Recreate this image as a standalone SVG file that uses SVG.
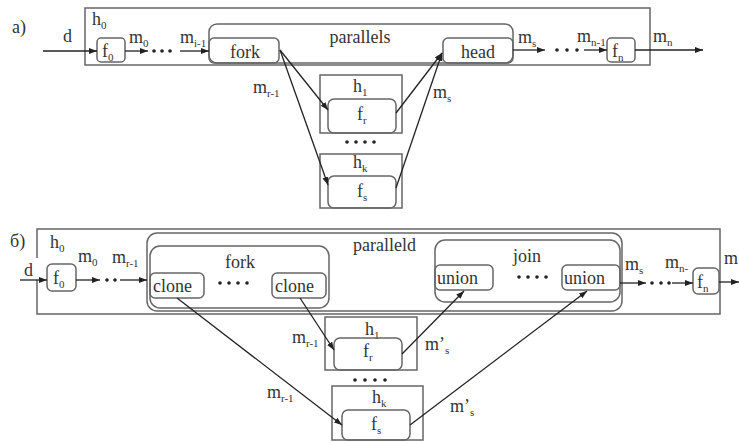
<svg xmlns="http://www.w3.org/2000/svg" width="739" height="443" viewBox="0 0 739 443">
<defs>
<marker id="ah" markerWidth="9" markerHeight="7" refX="8" refY="3" orient="auto" markerUnits="userSpaceOnUse">
<path d="M0,0 L8,3 L0,6 z" fill="#222"/>
</marker>
<style>
.b{fill:none;stroke:#666;stroke-width:1.5}
.t{font-family:"Liberation Serif","Times New Roman",serif;font-size:18px;fill:#333}
.m{text-anchor:middle}
.s{font-size:11px}
.c{stroke:#222;stroke-width:1.3;fill:none;marker-end:url(#ah)}
.d{fill:#222}
</style>
</defs>
<rect width="739" height="443" fill="#fff"/>

<!-- Part a -->
<text class="t" x="12" y="33">a)</text>
<g id="a_h0"><rect class="b" x="85" y="8" width="565" height="57"/><text class="t" x="92" y="25">h<tspan class="s" dy="4">0</tspan></text></g>
<g id="a_f0"><rect class="b" x="97" y="38" width="28" height="24" rx="4"/><text class="t" x="102" y="57">f<tspan class="s" dy="4">0</tspan></text></g>
<g id="a_parallels"><rect class="b" x="209" y="24" width="304" height="39" rx="8"/><text class="t m" x="360" y="43">parallels</text></g>
<g id="a_fork"><rect class="b" x="209" y="38" width="70" height="25" rx="5"/><text class="t m" x="245" y="58">fork</text></g>
<g id="a_head"><rect class="b" x="443" y="38" width="70" height="25" rx="5"/><text class="t m" x="478" y="58">head</text></g>
<g id="a_fn"><rect class="b" x="607" y="38" width="28" height="24" rx="4"/><text class="t" x="612" y="57">f<tspan class="s" dy="4">n</tspan></text></g>
<g id="a_h1"><rect class="b" x="320" y="75" width="82" height="58"/><text class="t" x="353" y="92">h<tspan class="s" dy="4">1</tspan></text></g>
<g id="a_fr"><rect class="b" x="328" y="99" width="68" height="34" rx="6"/><text class="t" x="357" y="120">f<tspan class="s" dy="4">r</tspan></text></g>
<g id="a_dots"><circle class="d" cx="347" cy="142" r="1.8"/><circle class="d" cx="356" cy="142" r="1.8"/><circle class="d" cx="365" cy="142" r="1.8"/><circle class="d" cx="374" cy="142" r="1.8"/></g>
<g id="a_hk"><rect class="b" x="320" y="154" width="82" height="54"/><text class="t" x="353" y="168">h<tspan class="s" dy="4">k</tspan></text></g>
<g id="a_fs"><rect class="b" x="328" y="176" width="68" height="32" rx="6"/><text class="t" x="357" y="197">f<tspan class="s" dy="4">s</tspan></text></g>

<g id="a_connectors">
<line class="c" x1="43" y1="51" x2="97" y2="51"/>
<line class="c" x1="125" y1="51" x2="148" y2="51"/>
<circle class="d" cx="154" cy="51" r="1.8"/><circle class="d" cx="162" cy="51" r="1.8"/><circle class="d" cx="170" cy="51" r="1.8"/>
<line class="c" x1="180" y1="51" x2="209" y2="51"/>
<line class="c" x1="280" y1="50" x2="328" y2="110"/>
<line class="c" x1="280" y1="50" x2="328" y2="185"/>
<line class="c" x1="396" y1="113" x2="442" y2="53"/>
<line class="c" x1="396" y1="188" x2="442" y2="53"/>
<line class="c" x1="513" y1="50" x2="545" y2="50"/>
<circle class="d" cx="557" cy="50" r="1.8"/><circle class="d" cx="567" cy="50" r="1.8"/><circle class="d" cx="577" cy="50" r="1.8"/>
<line class="c" x1="584" y1="50" x2="607" y2="50"/>
<line class="c" x1="635" y1="50" x2="703" y2="50"/>
<text class="t" x="63" y="42">d</text>
<text class="t" x="129" y="43">m<tspan class="s" dy="4">0</tspan></text>
<text class="t" x="180" y="43">m<tspan class="s" dy="4">i-1</tspan></text>
<text class="t" x="518" y="43">m<tspan class="s" dy="4">s</tspan></text>
<text class="t" x="577" y="42">m<tspan class="s" dy="4">n-1</tspan></text>
<text class="t" x="653" y="42">m<tspan class="s" dy="4">n</tspan></text>
<text class="t" x="253" y="93">m<tspan class="s" dy="4">r-1</tspan></text>
<text class="t" x="433" y="98">m<tspan class="s" dy="4">s</tspan></text>
</g>

<!-- Part b -->
<text class="t" x="10" y="247">б)</text>
<g id="b_h0"><path class="b" d="M37,258 V229 H720 V314 H37 V280"/><text class="t" x="50" y="248">h<tspan class="s" dy="4">0</tspan></text></g>
<g id="b_f0"><rect class="b" x="47" y="264" width="29" height="27" rx="5"/><text class="t" x="53" y="284">f<tspan class="s" dy="4">0</tspan></text></g>
<g id="b_paralleld"><rect class="b" x="147" y="233" width="475" height="78" rx="10"/><text class="t" x="353" y="251">paralleld</text></g>
<g id="b_fork"><rect class="b" x="150" y="246" width="179" height="62" rx="10"/><text class="t m" x="240" y="268">fork</text></g>
<g id="b_clone1"><rect class="b" x="150" y="273" width="54" height="25" rx="5"/><text class="t" x="153" y="292">clone</text></g>
<g id="b_forkdots"><circle class="d" cx="220" cy="283" r="1.8"/><circle class="d" cx="229" cy="283" r="1.8"/><circle class="d" cx="238" cy="283" r="1.8"/><circle class="d" cx="247" cy="283" r="1.8"/></g>
<g id="b_clone2"><rect class="b" x="272" y="273" width="54" height="25" rx="5"/><text class="t" x="275" y="292">clone</text></g>
<g id="b_join"><rect class="b" x="435" y="240" width="185" height="62" rx="10"/><text class="t m" x="527" y="262">join</text></g>
<g id="b_union1"><rect class="b" x="435" y="265" width="58" height="25" rx="5"/><text class="t" x="437" y="284">union</text></g>
<g id="b_joindots"><circle class="d" cx="519" cy="277" r="1.8"/><circle class="d" cx="528" cy="277" r="1.8"/><circle class="d" cx="537" cy="277" r="1.8"/><circle class="d" cx="546" cy="277" r="1.8"/></g>
<g id="b_union2"><rect class="b" x="562" y="265" width="58" height="25" rx="5"/><text class="t" x="564" y="284">union</text></g>
<g id="b_fn"><rect class="b" x="693" y="268" width="26" height="26" rx="5"/><text class="t" x="697" y="288">f<tspan class="s" dy="4">n</tspan></text></g>
<g id="b_h1"><rect class="b" x="325" y="317" width="92" height="53"/><text class="t" x="365" y="335">h<tspan class="s" dy="4">1</tspan></text></g>
<g id="b_fr"><rect class="b" x="334" y="338" width="68" height="32" rx="6"/><text class="t" x="363" y="357">f<tspan class="s" dy="4">r</tspan></text></g>
<g id="b_dots"><circle class="d" cx="355" cy="380" r="1.8"/><circle class="d" cx="365" cy="380" r="1.8"/><circle class="d" cx="375" cy="380" r="1.8"/><circle class="d" cx="385" cy="380" r="1.8"/></g>
<g id="b_hk"><rect class="b" x="332" y="386" width="91" height="54"/><text class="t" x="372" y="403">h<tspan class="s" dy="4">k</tspan></text></g>
<g id="b_fs"><rect class="b" x="342" y="410" width="68" height="30" rx="6"/><text class="t" x="371" y="430">f<tspan class="s" dy="4">s</tspan></text></g>

<g id="b_connectors">
<line class="c" x1="20" y1="280" x2="47" y2="280"/>
<line class="c" x1="76" y1="280" x2="100" y2="280"/>
<circle class="d" cx="107" cy="280" r="1.8"/><circle class="d" cx="115" cy="280" r="1.8"/>
<line class="c" x1="120" y1="280" x2="147" y2="280"/>
<line class="c" x1="177" y1="298" x2="342" y2="425"/>
<line class="c" x1="300" y1="298" x2="334" y2="350"/>
<line class="c" x1="402" y1="354" x2="464" y2="291"/>
<line class="c" x1="410" y1="425" x2="587" y2="291"/>
<line class="c" x1="620" y1="283" x2="646" y2="283"/>
<circle class="d" cx="652" cy="283" r="1.8"/><circle class="d" cx="661" cy="283" r="1.8"/><circle class="d" cx="669" cy="283" r="1.8"/>
<line class="c" x1="672" y1="283" x2="693" y2="283"/>
<line class="c" x1="719" y1="282" x2="739" y2="282"/>
<text class="t" x="24" y="276">d</text>
<text class="t" x="78" y="262">m<tspan class="s" dy="4">0</tspan></text>
<text class="t" x="112" y="263">m<tspan class="s" dy="4">r-1</tspan></text>
<text class="t" x="625" y="270">m<tspan class="s" dy="4">s</tspan></text>
<text class="t" x="665" y="268">m<tspan class="s" dy="4">n-</tspan></text>
<text class="t" x="724" y="264">m</text>
<text class="t" x="292" y="343">m<tspan class="s" dy="4">r-1</tspan></text>
<text class="t" x="267" y="398">m<tspan class="s" dy="4">r-1</tspan></text>
<text class="t" x="425" y="350">m’<tspan class="s" dy="4">s</tspan></text>
<text class="t" x="450" y="412">m’<tspan class="s" dy="4">s</tspan></text>
</g>
</svg>
